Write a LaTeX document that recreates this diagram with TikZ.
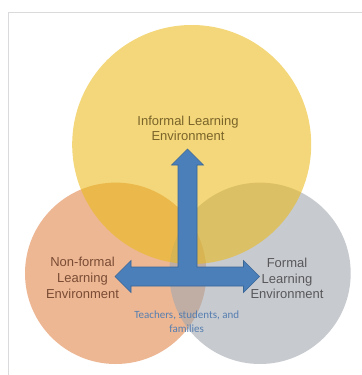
\documentclass[tikz,border=0pt]{standalone}
\usepackage{fontspec}
\setmainfont{Liberation Sans}
\newfontfamily\calib{Carlito}
\definecolor{yel}{RGB}{235,185,18}
\definecolor{ora}{RGB}{237,183,148}
\definecolor{gry}{RGB}{163,168,175}
\definecolor{arrfill}{RGB}{74,127,186}
\definecolor{arrdraw}{RGB}{58,102,150}
\definecolor{txtinf}{RGB}{122,100,42}
\definecolor{txtnon}{RGB}{122,76,52}
\definecolor{txtfor}{RGB}{88,88,90}
\definecolor{txtblue}{RGB}{86,126,176}
\definecolor{framec}{RGB}{218,218,220}
\tikzset{
  venn/.style={circle, inner sep=0pt, outer sep=0pt},
  bigtext/.style={align=center, inner sep=0pt, font=\fontsize{13bp}{15.7bp}\selectfont},
  smalltext/.style={align=center, inner sep=0pt, text=txtblue, font=\calib\fontsize{11bp}{14bp}\selectfont},
}
\begin{document}
\begin{tikzpicture}[x=1bp, y=-1bp]
\useasboundingbox (0,0) rectangle (362,375);
\fill[white] (0,0) rectangle (362,375);
\draw[framec, line width=0.9bp] (8.5,380) -- (8.5,12.5) -- (370,12.5);
% circles
\node[venn, fill=ora, minimum size=181.4bp] (non) at (115.7,273.3) {};
\node[venn, fill=gry, fill opacity=0.6, minimum size=181.4bp] (for) at (260,273.3) {};
\node[venn, fill=yel, fill opacity=0.56, minimum size=239bp] (inf) at (191.7,144.5) {};
% three-way arrow
\coordinate (tip) at (187.5,149);
\coordinate (ltip) at (115,276.5);
\coordinate (rtip) at (259.5,276.5);
\fill[arrfill, draw=arrdraw, line width=0.6bp, line join=miter]
  (tip) -- (203.5,165) -- (197,165) -- (197,267) -- (243.5,267) -- (243.5,260.5)
  -- (rtip) -- (243.5,292.5) -- (243.5,286) -- (131,286) -- (131,292.5)
  -- (ltip) -- (131,260.5) -- (131,267) -- (178,267) -- (178,165) -- (171.5,165) -- cycle;
% labels
\node[bigtext, text=txtinf] (tinf) at (188,128.3) {Informal Learning\\Environment};
\node[bigtext, text=txtnon] (tnon) at (82.5,278) {Non-formal\\Learning\\Environment};
\node[bigtext, text=txtfor] (tfor) at (287,278.5) {Formal\\Learning\\Environment};
\node[smalltext] (tteach) at (186.7,321.5) {Teachers, students, and\\families};
\end{tikzpicture}
\end{document}
